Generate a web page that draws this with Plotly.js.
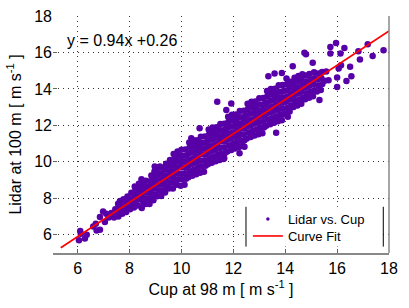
<!DOCTYPE html>
<html><head><meta charset="utf-8">
<script src="https://cdn.plot.ly/plotly-3.0.1.min.js"></script>
<style>html,body{margin:0;padding:0;background:#fff;}#chart{width:409px;height:308px;}</style>
</head><body><div id="chart"></div>
<script>
// Cup anemometer speed at 98 m (x) and lidar speed at 100 m (y)
const cupSpeed = [
6.05,6.12,6.10,6.28,6.35,6.60,6.73,6.86,6.70,6.86,6.98,7.10,7.05,7.20,7.30,7.40,7.45,7.56,7.63,7.50,
7.57,7.62,7.58,7.64, 7.72,7.78,7.74,7.77, 7.87,7.93,7.89,7.92, 8.02,8.08,8.04,8.07,
8.17,8.23,8.19,8.22,8.20, 8.32,8.38,8.34,8.37,8.36,
8.47,8.53,8.49,8.52,8.50,8.46, 8.62,8.68,8.64,8.67,8.63, 8.77,8.83,8.79,8.82,8.80,8.84,
8.92,8.98,8.94,8.97,8.93,8.96, 9.07,9.13,9.09,9.12,9.08,9.11, 9.22,9.28,9.24,9.27,9.23,9.26,
9.37,9.43,9.39,9.42,9.38,9.41, 9.52,9.58,9.54,9.57,9.53,9.56,
9.67,9.73,9.69,9.72,9.68,9.71,9.70, 9.82,9.88,9.84,9.87,9.83,9.86,9.85,
9.97,10.03,9.99,10.02,9.98,10.01,10.00,
10.12,10.18,10.14,10.17,10.13,10.16,10.15,
10.27,10.33,10.29,10.32,10.28,10.31,10.30,
10.42,10.48,10.44,10.47,10.43,10.46,10.45,
10.57,10.63,10.59,10.62,10.58,10.61,10.60,
10.72,10.78,10.74,10.77,10.73,10.76,10.75,
10.87,10.93,10.89,10.92,10.88,10.91,10.90,
11.02,11.08,11.04,11.07,11.03,11.06,11.05,
11.17,11.23,11.19,11.22,11.18,11.21,11.20,
11.32,11.38,11.34,11.37,11.33,11.36,11.35,
11.47,11.53,11.49,11.52,11.48,11.51,11.50,
11.62,11.68,11.64,11.67,11.63,11.66,11.65,
11.77,11.83,11.79,11.82,11.78,11.81,11.80,
11.92,11.98,11.94,11.97,11.93,11.96,11.95,
12.07,12.13,12.09,12.12,12.08,12.11,12.10,
12.22,12.28,12.24,12.27,12.23,12.26,12.25,
12.37,12.43,12.39,12.42,12.38,12.41,12.40,
12.52,12.58,12.54,12.57,12.53,12.56,12.55,
12.67,12.73,12.69,12.72,12.68,12.71,12.70,
12.82,12.88,12.84,12.87,12.83,12.86,12.85,
12.97,13.03,12.99,13.02,12.98,13.01,13.00,
13.12,13.18,13.14,13.17,13.13,13.16,13.15,
13.27,13.33,13.29,13.32,13.28,13.31,13.30,
13.42,13.48,13.44,13.47,13.43,13.46,13.45,
13.57,13.63,13.59,13.62,13.58,13.61,13.60,
13.72,13.78,13.74,13.77,13.73,13.76,13.75,
13.87,13.93,13.89,13.92,13.88,13.91,13.90,
14.02,14.08,14.04,14.07,14.03,14.06,14.05,
14.17,14.23,14.19,14.22,14.18,14.21,
14.32,14.38,14.34,14.37,14.33,14.36,
14.47,14.53,14.49,14.52,14.48,14.51,
14.62,14.68,14.64,14.67,14.63,14.66,
14.77,14.83,14.79,14.82,14.78,
14.92,14.98,14.94,14.97,14.93,
15.07,15.13,15.09,15.12,15.11,
15.22,15.28,15.24,15.27,
15.37,15.43,15.39,15.42,
15.52,15.58,
15.96,15.74,14.74,14.80,15.74,16.13,16.28,16.82,16.88,17.37,17.79,17.18,16.06,16.15,16.00,16.50,15.67,16.36,16.55,16.00,
11.38,11.73,13.59,13.87,13.35,14.29,15.06,13.65,14.10,12.43,15.32,11.92,10.70,10.38,8.97,11.65,12.24,9.17
];
const lidarSpeed = [
5.70,6.05,6.20,5.80,6.00,6.45,6.24,6.28,6.60,6.97,7.28,7.15,6.70,6.95,7.20,6.95,7.40,7.70,7.83,7.10,
7.00,7.30,7.55,7.85, 7.15,7.45,7.70,7.95, 7.25,7.55,7.80,8.10, 7.40,7.70,7.95,8.30,
7.50,7.80,8.10,8.40,8.65, 7.60,7.95,8.25,8.55,8.80,
7.47,7.78,8.10,8.42,8.73,9.05, 7.69,8.01,8.33,8.65,8.96, 7.69,8.00,8.31,8.62,8.93,9.25,
7.89,8.20,8.52,8.84,9.15,9.47, 8.11,8.43,8.75,9.07,9.38,9.67, 8.12,8.43,8.74,9.05,9.36,9.68,
8.32,8.63,8.95,9.27,9.58,9.90, 8.54,8.86,9.18,9.50,9.81,10.10,
8.54,8.85,9.16,9.47,9.78,10.10,10.43, 8.74,9.05,9.37,9.69,10.00,10.32,10.57,
8.69,9.04,9.35,9.70,9.99,10.32,10.67,
8.75,9.07,9.38,9.71,10.02,10.34,10.68,
9.16,9.49,9.82,10.12,10.44,10.78,11.06,
9.24,9.57,9.90,10.20,10.53,10.87,11.18,
9.32,9.66,9.98,10.30,10.61,10.93,11.19,
9.40,9.75,10.06,10.41,10.70,11.03,11.38,
9.46,9.78,10.09,10.42,10.73,11.05,11.39,
9.87,10.20,10.53,10.83,11.15,11.49,11.77,
9.95,10.28,10.61,10.91,11.24,11.58,11.89,
10.03,10.37,10.69,11.01,11.32,11.64,11.90,
10.10,10.45,10.76,11.11,11.40,11.73,12.08,
10.16,10.48,10.79,11.12,11.43,11.75,12.09,
10.57,10.90,11.23,11.53,11.85,12.19,12.47,
10.65,10.98,11.31,11.61,11.94,12.28,12.59,
10.73,11.07,11.39,11.71,12.02,12.34,12.60,
10.81,11.16,11.47,11.82,12.11,12.44,12.79,
10.87,11.19,11.50,11.83,12.14,12.46,12.80,
11.28,11.61,11.94,12.24,12.56,12.90,13.18,
11.36,11.69,12.02,12.32,12.65,12.99,13.30,
11.44,11.78,12.10,12.42,12.73,13.05,13.31,
11.51,11.86,12.17,12.52,12.81,13.14,13.49,
11.57,11.89,12.20,12.53,12.84,13.16,13.50,
11.98,12.31,12.64,12.94,13.26,13.60,13.88,
12.06,12.39,12.72,13.02,13.35,13.69,14.00,
12.14,12.48,12.80,13.12,13.43,13.75,14.01,
12.22,12.57,12.88,13.23,13.52,13.85,14.20,
12.28,12.60,12.91,13.24,13.55,13.87,14.21,
12.63,12.96,13.29,13.59,13.92,14.26,14.57,
12.76,13.09,13.42,13.75,14.07,14.39,
13.01,13.34,13.67,13.99,14.31,14.61,
13.09,13.42,13.75,14.08,14.40,14.71,
13.18,13.51,13.84,14.17,14.49,14.81,
13.43,13.76,14.09,14.41,14.73,
13.51,13.84,14.17,14.50,14.82,
13.60,13.93,14.26,14.59,14.91,
13.86,14.19,14.52,14.84,
13.94,14.27,14.60,14.93,
14.45,14.95,
16.52,16.30,15.98,15.90,15.94,15.94,16.25,16.07,15.61,15.80,16.12,16.45,15.12,15.30,14.63,15.21,14.48,14.44,14.70,14.10,
13.30,12.84,14.85,14.88,14.70,15.25,15.43,11.60,12.48,10.83,13.39,13.20,11.84,11.29,9.74,10.20,10.47,9.74
];
// Least-squares line as drawn (end points)
const fitCup = [5.35, 18.0];
const fitLidar = [5.29, 17.18];
const fitLabel = 'y = 0.94x +0.26';
const seriesNames = ['Lidar vs. Cup', 'Curve Fit'];
const xTicks = [6, 8, 10, 12, 14, 16, 18];
const yTicks = [6, 8, 10, 12, 14, 16, 18];

const n = Math.min(cupSpeed.length, lidarSpeed.length);
const FONT = 'Liberation Sans, Arial, Helvetica, sans-serif';
const purple = '#5800a8';

const traces = [
  {x: cupSpeed.slice(0, n), y: lidarSpeed.slice(0, n), type: 'scatter', mode: 'markers',
   name: seriesNames[0], showlegend: false, marker: {color: purple, size: 6.5, line: {width: 0}}},
  // legend key for the scatter (small dot as in the original legend); no visible point
  {x: [null], y: [null], type: 'scatter', mode: 'markers', name: seriesNames[0], legend: 'legend',
   marker: {color: purple, size: 3.5, line: {width: 0}}},
  {x: fitCup, y: fitLidar, type: 'scatter', mode: 'lines', name: seriesNames[1], legend: 'legend2',
   line: {color: '#ff0000', width: 1.6}}
];

const gridDash = '1px,4px';
const legendBase = {xanchor: 'left', yanchor: 'top', bgcolor: 'rgba(0,0,0,0)', borderwidth: 0,
  font: {size: 13, family: FONT}, tracegroupgap: 0};
const layout = {
  width: 409, height: 308,
  margin: {l: 53, r: 20, t: 16, b: 55, pad: 0},
  paper_bgcolor: '#fff', plot_bgcolor: '#fff',
  font: {family: FONT, color: '#000', size: 16},
  showlegend: true,
  xaxis: {
    range: [5.05, 18], tickmode: 'array', tickvals: xTicks, ticktext: xTicks.map(String),
    ticks: 'inside', ticklen: 4, tickcolor: '#666',
    showgrid: true, gridcolor: '#333', gridwidth: 1, griddash: gridDash,
    zeroline: false, showline: true, linecolor: '#888', linewidth: 1.5,
    tickfont: {size: 16, family: FONT},
    title: {text: 'Cup at 98 m [ m s<sup>-1</sup> ]', font: {size: 16, family: FONT}, standoff: 8},
    automargin: false
  },
  yaxis: {
    range: [5.0, 18], tickmode: 'array', tickvals: yTicks, ticktext: yTicks.map(String),
    ticks: 'inside', ticklen: 4, tickcolor: '#666',
    showgrid: true, gridcolor: '#333', gridwidth: 1, griddash: gridDash,
    zeroline: false, showline: false,
    tickfont: {size: 16, family: FONT},
    title: {text: 'Lidar at 100 m [ m s<sup>-1</sup> ]', font: {size: 16, family: FONT}, standoff: 8},
    automargin: false
  },
  legend: Object.assign({x: 0.58, y: 0.2068}, legendBase),
  legend2: Object.assign({x: 0.58, y: 0.135}, legendBase),
  annotations: [
    {text: fitLabel, xref: 'x', yref: 'y', x: 5.5, y: 16.67, xanchor: 'left', yanchor: 'middle',
     showarrow: false, font: {size: 16, family: FONT}}
  ],
  shapes: [
    {type: 'rect', xref: 'paper', yref: 'paper', x0: 0.5744, x1: 0.983, y0: 0.027, y1: 0.195,
     fillcolor: '#fff', line: {width: 0}, layer: 'above'},
    {type: 'line', xref: 'paper', yref: 'paper', x0: 0.5744, x1: 0.5744, y0: 0.027, y1: 0.195,
     line: {color: '#000', width: 1}, layer: 'above'},
    {type: 'line', xref: 'paper', yref: 'paper', x0: 0.983, x1: 0.983, y0: 0.027, y1: 0.195,
     line: {color: '#000', width: 1}, layer: 'above'},
    {type: 'line', xref: 'paper', yref: 'paper', x0: 1, x1: 1, y0: 0, y1: 1,
     line: {color: '#888', width: 1.5}, layer: 'above'}
  ]
};

Plotly.newPlot('chart', traces, layout, {staticPlot: true, displayModeBar: false});
</script>
</body></html>
